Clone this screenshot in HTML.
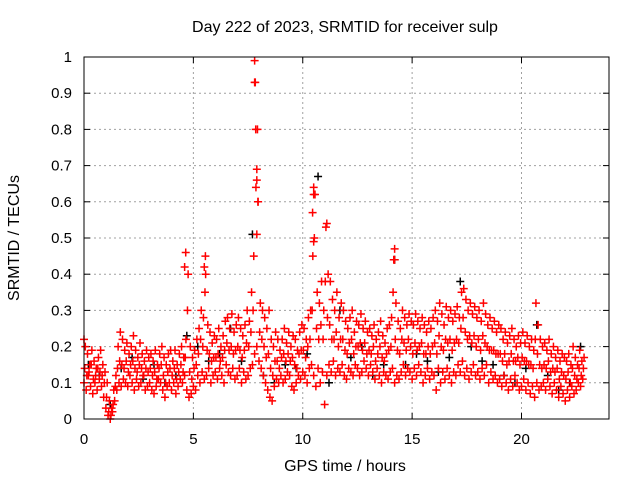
<!DOCTYPE html>
<html><head><meta charset="utf-8"><style>
body{margin:0;background:#fff;}
svg{display:block;font-family:"Liberation Sans",sans-serif;}
</style></head><body>
<svg id="chart" width="640" height="480"></svg>
<script>
const xTicks=[0,5,10,15,20];
const yTicks=[0,0.1,0.2,0.3,0.4,0.5,0.6,0.7,0.8,0.9,1];
const yTickLabels=["0","0.1","0.2","0.3","0.4","0.5","0.6","0.7","0.8","0.9","1"];
const redLo=[0.10,0.08,0.12,0.09,0.07,0.10,0.08,0.11,0.09,0.06,
0.03,0.01,0.00,0.02,0.05,0.08,0.10,0.09,0.11,0.10,
0.09,0.12,0.10,0.08,0.11,0.09,0.10,0.12,0.08,0.09,
0.10,0.08,0.07,0.09,0.11,0.10,0.08,0.06,0.09,0.10,
0.08,0.10,0.07,0.09,0.11,0.10,0.12,0.08,0.06,0.07,
0.09,0.08,0.12,0.10,0.13,0.11,0.12,0.14,0.10,0.12,
0.13,0.11,0.14,0.12,0.10,0.15,0.13,0.12,0.14,0.11,
0.12,0.14,0.10,0.13,0.11,0.12,0.14,0.15,0.18,0.20,
0.16,0.14,0.12,0.10,0.08,0.06,0.05,0.09,0.11,0.10,
0.12,0.10,0.11,0.13,0.12,0.09,0.08,0.10,0.12,0.11,
0.13,0.12,0.10,0.14,0.15,0.12,0.09,0.14,0.10,0.13,
0.04,0.12,0.15,0.13,0.16,0.12,0.14,0.13,0.15,0.12,
0.11,0.14,0.13,0.12,0.15,0.14,0.12,0.13,0.16,0.14,
0.12,0.15,0.13,0.11,0.14,0.12,0.10,0.13,0.12,0.11,
0.13,0.14,0.10,0.12,0.11,0.13,0.15,0.12,0.14,0.13,
0.11,0.14,0.12,0.15,0.13,0.10,0.12,0.14,0.11,0.13,
0.12,0.08,0.14,0.10,0.13,0.11,0.14,0.12,0.10,0.13,
0.12,0.15,0.13,0.16,0.12,0.14,0.11,0.13,0.15,0.12,
0.13,0.11,0.14,0.12,0.15,0.10,0.13,0.11,0.12,0.10,
0.11,0.09,0.12,0.10,0.08,0.11,0.09,0.12,0.10,0.08,
0.09,0.11,0.08,0.10,0.07,0.09,0.06,0.10,0.08,0.09,
0.10,0.08,0.11,0.09,0.07,0.10,0.08,0.06,0.09,0.07,
0.05,0.08,0.06,0.09,0.07,0.08,0.10,0.09,0.11];
const redMid=[0.14,0.12,0.13,0.15,0.11,0.12,0.14,0.13,0.12,0.10,
0.06,0.02,0.01,0.04,0.09,0.14,0.16,0.15,0.14,0.16,
0.13,0.15,0.16,0.14,0.13,0.15,0.14,0.12,0.14,0.13,
0.14,0.12,0.13,0.11,0.14,0.15,0.12,0.10,0.13,0.14,
0.12,0.14,0.11,0.13,0.15,0.13,0.17,0.30,0.13,0.11,
0.14,0.15,0.18,0.22,0.20,0.35,0.19,0.18,0.16,0.17,
0.17,0.18,0.16,0.17,0.19,0.21,0.19,0.20,0.18,0.19,
0.20,0.19,0.17,0.19,0.21,0.20,0.24,0.30,0.93,0.80,
0.24,0.22,0.20,0.17,0.18,0.14,0.12,0.16,0.16,0.14,
0.17,0.18,0.16,0.18,0.16,0.17,0.15,0.14,0.18,0.19,
0.19,0.17,0.20,0.22,0.30,0.50,0.25,0.22,0.26,0.22,
0.38,0.28,0.26,0.22,0.22,0.24,0.20,0.22,0.22,0.19,
0.18,0.21,0.22,0.18,0.20,0.20,0.21,0.19,0.21,0.18,
0.19,0.18,0.20,0.16,0.18,0.20,0.17,0.16,0.18,0.19,
0.20,0.35,0.22,0.19,0.18,0.22,0.21,0.19,0.22,0.20,
0.18,0.21,0.19,0.20,0.21,0.18,0.18,0.20,0.18,0.20,
0.21,0.18,0.23,0.20,0.19,0.22,0.21,0.22,0.19,0.21,
0.22,0.21,0.25,0.28,0.24,0.22,0.23,0.21,0.23,0.20,
0.22,0.19,0.23,0.21,0.20,0.19,0.19,0.19,0.18,0.18,
0.18,0.16,0.18,0.15,0.16,0.18,0.16,0.16,0.17,0.15,
0.17,0.16,0.16,0.15,0.15,0.14,0.22,0.18,0.15,0.14,
0.15,0.14,0.16,0.13,0.14,0.13,0.14,0.11,0.13,0.12,
0.11,0.13,0.10,0.14,0.12,0.11,0.14,0.12,0.14];
const redHi=[0.20,0.18,0.15,0.19,0.16,0.14,0.17,0.19,0.15,0.13,
0.10,0.05,0.03,0.08,0.12,0.20,0.24,0.22,0.19,0.21,
0.18,0.20,0.23,0.19,0.17,0.21,0.18,0.16,0.19,0.17,
0.18,0.16,0.19,0.15,0.18,0.20,0.17,0.15,0.18,0.19,
0.16,0.19,0.15,0.18,0.20,0.17,0.22,0.40,0.20,0.17,
0.19,0.22,0.25,0.30,0.28,0.40,0.26,0.24,0.21,0.23,
0.22,0.25,0.20,0.23,0.27,0.28,0.25,0.29,0.24,0.26,
0.28,0.25,0.23,0.26,0.30,0.27,0.35,0.45,0.64,0.60,
0.32,0.30,0.28,0.25,0.30,0.22,0.20,0.24,0.22,0.19,
0.22,0.25,0.21,0.24,0.20,0.23,0.22,0.19,0.24,0.26,
0.25,0.22,0.28,0.30,0.45,0.62,0.35,0.32,0.38,0.30,
0.53,0.40,0.38,0.33,0.30,0.35,0.28,0.32,0.30,0.27,
0.25,0.28,0.30,0.24,0.27,0.26,0.29,0.25,0.27,0.24,
0.25,0.23,0.26,0.22,0.24,0.27,0.23,0.21,0.25,0.26,
0.28,0.44,0.32,0.27,0.25,0.30,0.28,0.26,0.29,0.27,
0.26,0.29,0.27,0.25,0.28,0.26,0.24,0.27,0.25,0.28,
0.30,0.27,0.32,0.29,0.26,0.31,0.28,0.30,0.27,0.29,
0.31,0.28,0.35,0.36,0.33,0.30,0.32,0.29,0.31,0.28,
0.30,0.27,0.32,0.29,0.26,0.28,0.25,0.27,0.24,0.26,
0.25,0.22,0.24,0.21,0.23,0.25,0.22,0.20,0.23,0.21,
0.24,0.21,0.23,0.20,0.22,0.19,0.32,0.26,0.22,0.20,
0.21,0.19,0.22,0.18,0.20,0.17,0.19,0.16,0.18,0.17,
0.16,0.18,0.15,0.20,0.17,0.15,0.19,0.16,0.17];
const spikeT=[7.8,7.8,7.85,7.9,7.9,7.95,7.9,10.5,10.5,10.45,10.5,11.1,4.65,4.6,5.55,5.5,14.2,14.2,0];
const spikeV=[0.99,0.93,0.80,0.69,0.66,0.60,0.51,0.64,0.62,0.57,0.49,0.54,0.46,0.42,0.45,0.42,0.47,0.44,0.22];
const blk=[0.15,0.12,0.04,0.14,0.17,0.11,0.15,0.10,0.12,0.23,0.20,0.16,0.18,0.25,0.16,0.51,0.12,0.10,0.15,0.14,0.18,0.67,0.10,0.30,0.17,0.20,0.12,0.15,0.44,0.15,0.18,0.16,0.13,0.17,0.38,0.20,0.16,0.15,0.12,0.10,0.14,0.26,0.12,0.08,0.10,0.20];

const L=84,R=609,T=57,B=419,XMAX=24;
const sx=t=>L+t*(R-L)/XMAX;
const sy=v=>B-v*(B-T);
const NS="http://www.w3.org/2000/svg";
const svg=document.getElementById('chart');
function mk(tag,attrs,parent){const e=document.createElementNS(NS,tag);for(const k in attrs)e.setAttribute(k,attrs[k]);(parent||svg).appendChild(e);return e;}

const grid=mk('g',{});


yTicks.forEach((v,i)=>{
  if(v>0&&v<1){const g=mk('line',{x1:L,x2:R,y1:sy(v),y2:sy(v),stroke:'#a0a0a0','stroke-dasharray':'2,3'},grid);
  }
  const tk=mk('line',{x1:L,x2:L+6,y1:sy(v),y2:sy(v),stroke:'#000'});
  
  const tk2=mk('line',{x1:R-6,x2:R,y1:sy(v),y2:sy(v),stroke:'#000'});
  
  const t=mk('text',{x:72,y:sy(v)+5,'text-anchor':'end','font-size':15});
  t.textContent=yTickLabels[i];
  
});
xTicks.forEach(v=>{
  if(v>0){const g=mk('line',{x1:sx(v),x2:sx(v),y1:T,y2:B,stroke:'#a0a0a0','stroke-dasharray':'2,3'},grid);
  }
  const tk=mk('line',{x1:sx(v),x2:sx(v),y1:B-6,y2:B,stroke:'#000'});
  
  const tk2=mk('line',{x1:sx(v),x2:sx(v),y1:T,y2:T+6,stroke:'#000'});
  
  const t=mk('text',{x:sx(v),y:444,'text-anchor':'middle','font-size':15});
  t.textContent=String(v);
  
});

function plus(g,t,v,c){const x=sx(t),y=sy(v);
  const p=mk('path',{d:`M${x-4},${y}h8M${x},${y-4}v8`,stroke:c,'stroke-width':1.5,fill:'none'},g);
  }
const gb=mk('g',{});


blk.forEach((v,i)=>plus(gb,i*0.5+0.2,v,'#000'));
const gr=mk('g',{});


[redLo,redMid,redHi].forEach((arr,k)=>arr.forEach((v,i)=>plus(gr,i*0.1+k*0.03,v,'#ff0000')));
spikeT.forEach((t,i)=>plus(gr,t,spikeV[i],'#ff0000'));

const box=mk('rect',{x:L,y:T,width:R-L,height:B-T,fill:'none',stroke:'#000','stroke-width':1});



const title=mk('text',{x:345,y:32,'text-anchor':'middle','font-size':16});
title.textContent='Day 222 of 2023, SRMTID for receiver sulp';


const xl=mk('text',{x:345,y:471,'text-anchor':'middle','font-size':16});
xl.textContent='GPS time / hours';


const yl=mk('text',{x:19,y:238,'text-anchor':'middle','font-size':16,transform:'rotate(-90 19 238)'});
yl.textContent='SRMTID / TECUs';


</script>
</body></html>
